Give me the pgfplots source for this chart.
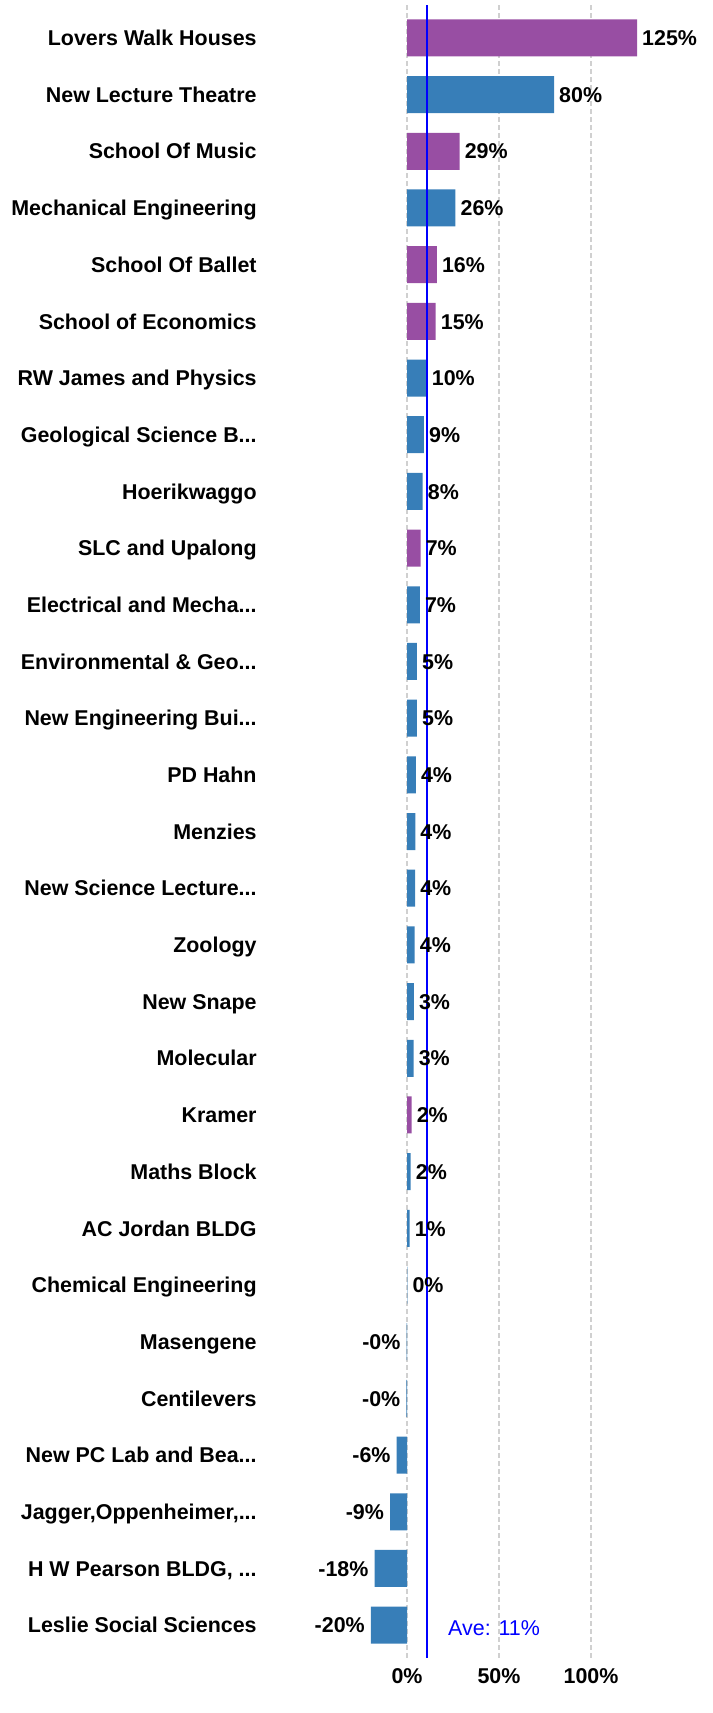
\documentclass[border=0pt]{standalone}
\usepackage{pgfplots}
\pgfplotsset{compat=1.18}
\usepackage{pgfplotstable}
\usepackage{fontspec}
\setmainfont{Liberation Sans}
\definecolor{cpurple}{HTML}{984EA3}
\definecolor{cblue}{HTML}{377EB8}
\definecolor{cgrid}{HTML}{D0D0D0}
\newcommand{\dd}{.{}.{}.}

\pgfplotstableread{
idx val lab
0 125 125
2 28.6 29
4 16.2 16
5 15.6 15
9 7.4 7
19 2.5 2
}\purpledata

\pgfplotstableread{
idx val lab
1 79.9 80
3 26.3 26
6 10.7 10
7 9.2 9
8 8.5 8
10 7.0 7
11 5.4 5
12 5.4 5
13 4.8 4
14 4.5 4
15 4.4 4
16 4.2 4
17 3.7 3
18 3.6 3
20 2.0 2
21 1.4 1
22 0.2 0
}\bluepos

\pgfplotstableread{
idx val lab
23 -0.2 -0
24 -0.3 -0
25 -5.6 -6
26 -9.2 -9
27 -17.6 -18
28 -19.6 -20
}\blueneg

\begin{document}
\begin{tikzpicture}
\path[use as bounding box] (0,0) rectangle (713bp,-1713bp);
\begin{axis}[
  at={(259.8bp,-5bp)}, anchor=north west,
  scale only axis, width=432.4bp, height=1653bp,
  xmin=-80, xmax=155, ymin=-0.58, ymax=28.58, y dir=reverse,
  axis line style={draw=none},
  major tick style={draw=none},
  xtick={0,50,100}, xticklabels={0\%,50\%,100\%},
  ytick={0,...,28},
  yticklabels={Lovers Walk Houses, New Lecture Theatre, School Of Music, Mechanical Engineering, School Of Ballet, School of Economics, RW James and Physics, {Geological Science B\dd}, Hoerikwaggo, SLC and Upalong, {Electrical and Mecha\dd}, {Environmental \& Geo\dd}, {New Engineering Bui\dd}, PD Hahn, Menzies, {New Science Lecture\dd}, Zoology, New Snape, Molecular, Kramer, Maths Block, AC Jordan BLDG, Chemical Engineering, Masengene, Centilevers, {New PC Lab and Bea\dd}, {Jagger,Oppenheimer,\dd}, {H W Pearson BLDG, \dd}, Leslie Social Sciences},
  xmajorgrids, grid style={cgrid, dash pattern=on 5bp off 3bp, line width=1.2bp},
  yticklabel style={font=\fontsize{21.5}{24}\selectfont\bfseries, inner sep=0pt, xshift=-3bp, text height=15.4bp, text depth=0pt},
  xticklabel style={font=\fontsize{21.5}{24}\selectfont\bfseries, yshift=-7bp},
  clip=false,
]
\addplot[xbar, bar width=37bp, bar shift=0pt, draw=none, fill=cpurple,
  point meta=explicit symbolic, nodes near coords={\pgfplotspointmeta\%},
  nodes near coords style={font=\fontsize{21.5}{24}\selectfont\bfseries, anchor=west, inner sep=0pt, xshift=5bp, text=black, text height=15.4bp, text depth=0pt}]
  table[x=val, y=idx, meta=lab] {\purpledata};
\addplot[xbar, bar width=37bp, bar shift=0pt, draw=none, fill=cblue,
  point meta=explicit symbolic, nodes near coords={\pgfplotspointmeta\%},
  nodes near coords style={font=\fontsize{21.5}{24}\selectfont\bfseries, anchor=west, inner sep=0pt, xshift=5bp, text=black, text height=15.4bp, text depth=0pt}]
  table[x=val, y=idx, meta=lab] {\bluepos};
\addplot[xbar, bar width=37bp, bar shift=0pt, draw=none, fill=cblue,
  point meta=explicit symbolic, nodes near coords={\pgfplotspointmeta\%},
  nodes near coords style={font=\fontsize{21.5}{24}\selectfont\bfseries, anchor=east, inner sep=0pt, xshift=-6bp, text=black, text height=15.4bp, text depth=0pt}]
  table[x=val, y=idx, meta=lab] {\blueneg};
\addplot[blue, line width=2.8bp, no marks] coordinates {(10.9,-0.58) (10.9,28.58)};
\node[anchor=west, text=blue, font=\fontsize{21.5}{24}\selectfont, inner sep=0pt, text height=15.4bp, text depth=0pt] at (axis cs:22.3,28.05) {Ave: 11\%};
\end{axis}
\end{tikzpicture}
\end{document}
